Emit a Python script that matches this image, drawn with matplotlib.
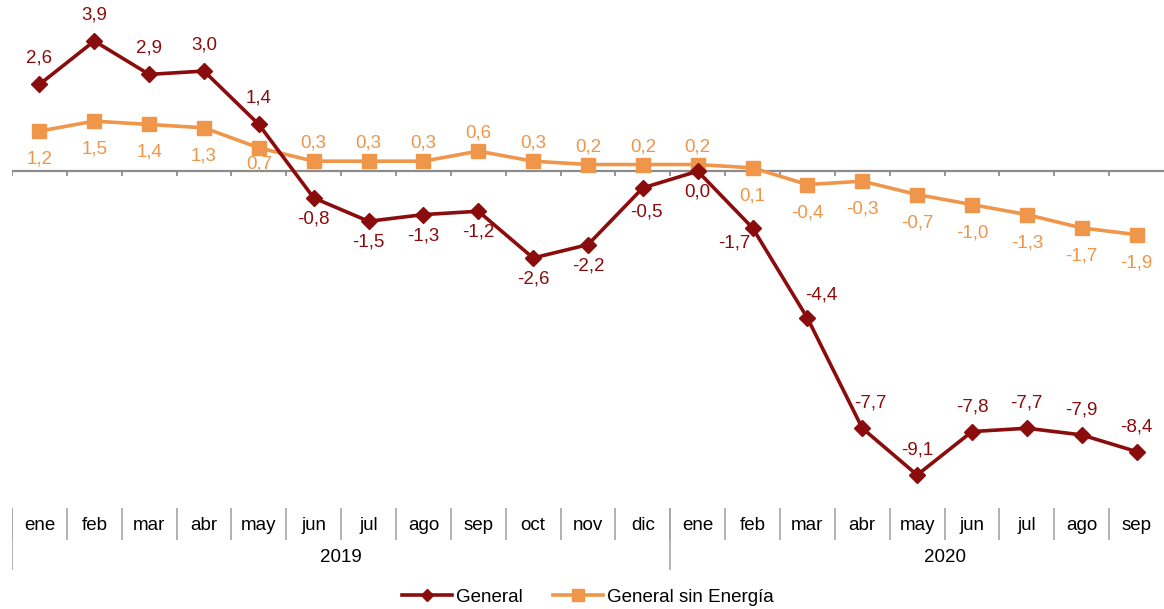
import numpy as np
import matplotlib
matplotlib.use("Agg")
import matplotlib.pyplot as plt
from matplotlib.lines import Line2D

plt.rcParams['font.family'] = ['Liberation Sans', 'DejaVu Sans']

meses = ['ene', 'feb', 'mar', 'abr', 'may', 'jun', 'jul', 'ago', 'sep', 'oct', 'nov', 'dic',
         'ene', 'feb', 'mar', 'abr', 'may', 'jun', 'jul', 'ago', 'sep']
anios = ['2019', '2020']
meses_por_anio = [12, 9]

general = [2.6, 3.9, 2.9, 3.0, 1.4, -0.8, -1.5, -1.3, -1.2, -2.6, -2.2, -0.5,
           0.0, -1.7, -4.4, -7.7, -9.1, -7.8, -7.7, -7.9, -8.4]
sin_energia = [1.2, 1.5, 1.4, 1.3, 0.7, 0.3, 0.3, 0.3, 0.6, 0.3, 0.2, 0.2,
               0.2, 0.1, -0.4, -0.3, -0.7, -1.0, -1.3, -1.7, -1.9]

ROJO = '#8B0C0C'
NARANJA = '#F0964A'
GRIS = '#8C8C8C'
FS = 13.5

W, H = 1164, 609
fig = plt.figure(figsize=(W / 100, H / 100), dpi=100)

# eje principal (coordenadas en pixeles de la imagen)
x_izq, x_der = 12, 1164
y_top, y_bot = 10, 505
cero_px, escala = 171.2, 33.38
ax = fig.add_axes([x_izq / W, 1 - y_bot / H, (x_der - x_izq) / W, (y_bot - y_top) / H])
ax.set_xlim(-0.5, len(meses) - 0.5)
ax.set_ylim(-(y_bot - cero_px) / escala, (cero_px - y_top) / escala)
ax.axis('off')

x = np.arange(len(meses))
ax.axhline(0, color=GRIS, lw=1.6, zorder=1)
ax.vlines(np.arange(len(meses)) - 0.5, -5 / escala, 0, color=GRIS, lw=1.3, zorder=1)

ax.plot(x, sin_energia, color=NARANJA, lw=2.6, marker='s', ms=10, zorder=2)
ax.plot(x, general, color=ROJO, lw=2.6, marker='D', ms=8.5, zorder=3)

# posicion de las etiquetas (desplazamiento en pixeles)
off_gen = []
for i, v in enumerate(general):
    if i >= 14:
        off_gen.append((0, 25))
    elif v > 0:
        off_gen.append((0, 26))
    else:
        off_gen.append((0, -21))
off_gen[11] = (4, -24)
off_gen[13] = (-18, -15)
off_gen[14] = (14, 23)
off_gen[15] = (8, 25)

off_sin = []
for i, v in enumerate(sin_energia):
    if 5 <= i <= 12:
        off_sin.append((0, 18))
    else:
        off_sin.append((0, -28))
off_sin[4] = (0, -16)

def fmt(v):
    return f'{v:.1f}'.replace('.', ',')

for xi, v, o in zip(x, general, off_gen):
    ax.annotate(fmt(v), (xi, v), xytext=o, textcoords='offset pixels',
                ha='center', va='center', fontsize=FS, color=ROJO)
for xi, v, o in zip(x, sin_energia, off_sin):
    ax.annotate(fmt(v), (xi, v), xytext=o, textcoords='offset pixels',
                ha='center', va='center', fontsize=FS, color=NARANJA)

# tabla de categorias
ax2 = fig.add_axes([x_izq / W, 1 - 575 / H, (x_der - x_izq) / W, 70 / H])
ax2.set_xlim(-0.5, len(meses) - 0.5)
ax2.set_ylim(575, 505)
ax2.axis('off')
sep_color = '#A6A6A6'
ax2.vlines(np.arange(len(meses)) - 0.5, 508, 540, color=sep_color, lw=1.2)
for i, m in enumerate(meses):
    ax2.text(i, 525, m, ha='center', va='center', fontsize=FS)
inicio = 0
for a, n in zip(anios, meses_por_anio):
    ax2.vlines(inicio - 0.5, 508, 570, color=sep_color, lw=1.2)
    ax2.text(inicio + (n - 1) / 2 + (0.5 if n < 12 else 0), 558, a,
             ha='center', va='center', fontsize=FS)
    inicio += n

handles = [Line2D([], [], color=ROJO, lw=2.6, marker='D', ms=6),
           Line2D([], [], color=NARANJA, lw=2.6, marker='s', ms=8)]
fig.legend(handles, ['General', 'General sin Energía'], loc='center',
           bbox_to_anchor=(0.505, 1 - 597 / H), ncol=2, frameon=False,
           fontsize=FS, handlelength=2.7, handletextpad=0.2, columnspacing=1.6)

fig.savefig('out.png', dpi=100)
